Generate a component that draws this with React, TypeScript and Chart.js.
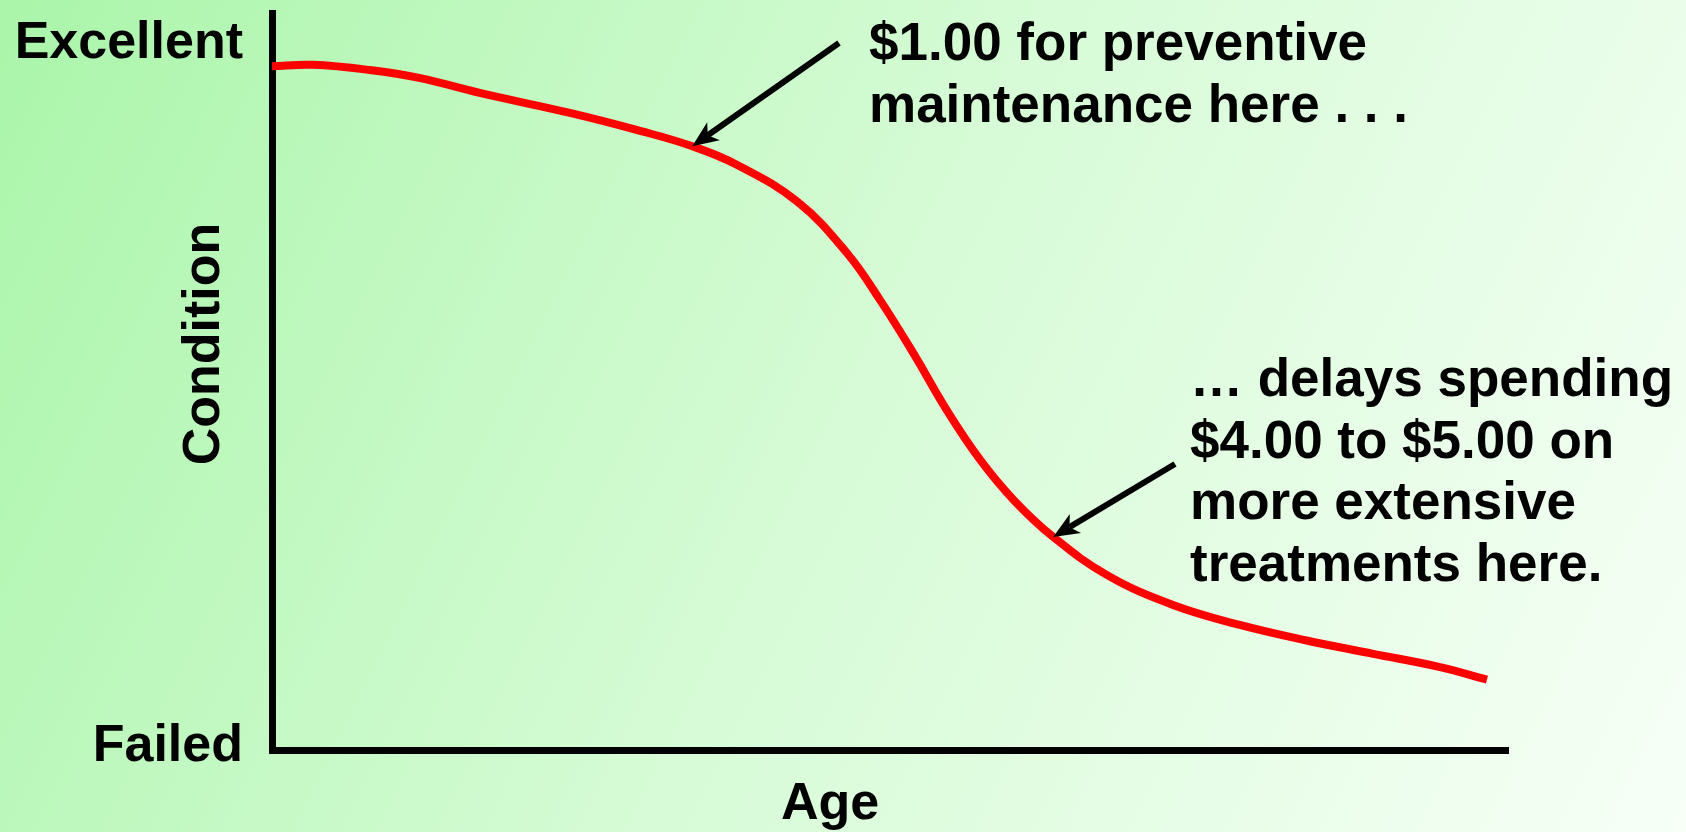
import React, { useEffect, useRef } from 'react';
import { Chart, registerables } from 'chart.js';

Chart.register(...registerables);

// Data (age 0..100, condition 0..100)
const ages = [0, 3.3, 7.9, 12.0, 16.8, 24.1, 29.5, 34.0, 37.6, 42.5, 46.5, 49.2, 51.9, 54.6, 57.3, 60.0, 63.2, 67.6, 72.9, 78.3, 83.7, 89.1, 94.5, 98.3];
const condition = [92.4, 92.6, 91.9, 90.8, 88.8, 86.1, 83.8, 81.6, 79.1, 74.1, 67.2, 60.8, 53.6, 45.9, 39.2, 33.8, 28.8, 23.6, 19.6, 16.9, 14.8, 13.0, 11.2, 9.5];

const yTickValues = [0.5, 95.4];
const yTickLabels = ['Failed', 'Excellent'];

const xTitle = 'Age';
const yTitle = 'Condition';

const note1Lines = ['$1.00 for preventive', 'maintenance here . . .'];
const note2Lines = ['\u2026 delays spending', '$4.00 to $5.00 on', 'more extensive', 'treatments here.'];

// arrow targets on the curve (data coordinates)
const arrow1Target = { x: 34.0, y: 81.6 };
const arrow2Target = { x: 63.2, y: 28.8 };

const FONT = '"Liberation Sans", Arial, Helvetica, sans-serif';

function drawArrow(ctx: CanvasRenderingContext2D, x1: number, y1: number, x2: number, y2: number) {
  const ang = Math.atan2(y2 - y1, x2 - x1);
  const headLen = 26;
  const halfW = 11;
  const notch = 7;
  const bx = x2 - Math.cos(ang) * (headLen - notch);
  const by = y2 - Math.sin(ang) * (headLen - notch);
  ctx.save();
  ctx.strokeStyle = '#000';
  ctx.fillStyle = '#000';
  ctx.lineWidth = 6;
  ctx.lineCap = 'butt';
  ctx.beginPath();
  ctx.moveTo(x1, y1);
  ctx.lineTo(bx, by);
  ctx.stroke();
  const px = -Math.sin(ang);
  const py = Math.cos(ang);
  const hx = x2 - Math.cos(ang) * headLen;
  const hy = y2 - Math.sin(ang) * headLen;
  ctx.beginPath();
  ctx.moveTo(x2, y2);
  ctx.lineTo(hx + px * halfW, hy + py * halfW);
  ctx.lineTo(bx, by);
  ctx.lineTo(hx - px * halfW, hy - py * halfW);
  ctx.closePath();
  ctx.fill();
  ctx.restore();
}

const backgroundPlugin = {
  id: 'bgGradient',
  beforeDraw(chart: any) {
    const { ctx, width, height } = chart;
    const g = ctx.createLinearGradient(0, 0, width, height);
    g.addColorStop(0, '#aaf5aa');
    g.addColorStop(0.5, '#d6fbd6');
    g.addColorStop(1, '#f7fff7');
    ctx.save();
    ctx.fillStyle = g;
    ctx.fillRect(0, 0, width, height);
    ctx.restore();
  },
};

const annotationPlugin = {
  id: 'annotations',
  afterDraw(chart: any) {
    const { ctx } = chart;
    const xs = chart.scales.x;
    const ys = chart.scales.y;
    ctx.save();
    ctx.fillStyle = '#000';
    ctx.font = `bold 53px ${FONT}`;
    ctx.textAlign = 'left';
    ctx.textBaseline = 'alphabetic';
    note1Lines.forEach((t, i) => ctx.fillText(t, 869, 60 + i * 62));
    note2Lines.forEach((t, i) => ctx.fillText(t, 1190, 396 + i * 61.5));

    // axis titles
    ctx.font = `bold 52px ${FONT}`;
    ctx.textAlign = 'center';
    ctx.fillText(xTitle, 830, 819);
    ctx.save();
    ctx.translate(205, 344);
    ctx.rotate(-Math.PI / 2);
    ctx.textBaseline = 'middle';
    ctx.fillText(yTitle, 0, 0);
    ctx.restore();
    ctx.restore();

    drawArrow(ctx, 839, 43, xs.getPixelForValue(arrow1Target.x), ys.getPixelForValue(arrow1Target.y));
    drawArrow(ctx, 1175, 464, xs.getPixelForValue(arrow2Target.x), ys.getPixelForValue(arrow2Target.y));
  },
};

export default function App() {
  const ref = useRef<HTMLCanvasElement | null>(null);
  useEffect(() => {
    if (!ref.current) return;
    const chart = new Chart(ref.current, {
      type: 'line',
      data: {
        datasets: [
          {
            data: ages.map((a, i) => ({ x: a, y: condition[i] })),
            borderColor: '#ff0000',
            borderWidth: 8,
            pointRadius: 0,
            fill: false,
            tension: 0.4,
            clip: false as any,
          },
        ],
      },
      plugins: [backgroundPlugin, annotationPlugin],
      options: {
        animation: false,
        responsive: false,
        layout: { padding: { top: 13, right: 178, left: 0, bottom: 0 } },
        plugins: { legend: { display: false }, tooltip: { enabled: false } },
        scales: {
          x: {
            type: 'linear',
            min: 0,
            max: 100,
            grid: { display: false, drawTicks: false },
            border: { display: true, color: '#000', width: 7 },
            ticks: { display: false },
            afterFit: (s: any) => {
              s.height = 82;
              s.paddingLeft = 0;
              s.paddingRight = 0;
            },
          },
          y: {
            type: 'linear',
            min: 0,
            max: 99.6,
            grid: { display: false, drawTicks: false },
            border: { display: true, color: '#000', width: 7 },
            afterBuildTicks: (s: any) => {
              s.ticks = yTickValues.map((v) => ({ value: v }));
            },
            ticks: {
              autoSkip: false,
              padding: 29,
              color: '#000',
              font: { family: FONT, size: 52, weight: 'bold' },
              callback: (_v: any, i: number) => yTickLabels[i],
            },
            afterFit: (s: any) => {
              s.width = 272;
              s.paddingTop = 0;
              s.paddingBottom = 0;
            },
          },
        },
      } as any,
    });
    return () => chart.destroy();
  }, []);
  return (
    <div style={{ position: 'absolute', left: 0, top: 0, width: 1686, height: 832 }}>
      <canvas ref={ref} width={1686} height={832} style={{ display: 'block' }} />
    </div>
  );
}
